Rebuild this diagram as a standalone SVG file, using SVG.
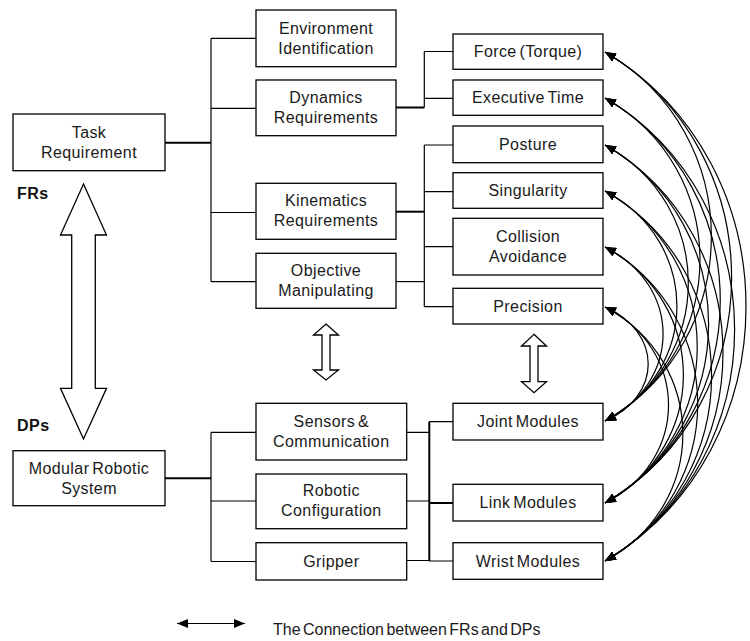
<svg xmlns="http://www.w3.org/2000/svg" width="750" height="641" viewBox="0 0 750 641">
  <defs>
    <marker id="ah" viewBox="0 0 11 9" refX="11" refY="4.5" markerWidth="11" markerHeight="9" markerUnits="userSpaceOnUse" orient="auto-start-reverse">
      <path d="M0,0 L11,4.5 L0,9 Z" fill="#000"/>
    </marker>
    <style>
      .box { fill: #fff; stroke: #000; stroke-width: 1.3; }
      .t { font-family: "Liberation Sans", Arial, sans-serif; font-size: 16px; letter-spacing: 0.4px; word-spacing: -2px; fill: #1a1a1a; text-anchor: middle; }
      .lbl { font-family: "Liberation Sans", Arial, sans-serif; font-size: 16px; font-weight: bold; letter-spacing: 0.5px; fill: #111; }
      .leg { font-family: "Liberation Sans", Arial, sans-serif; font-size: 16px; word-spacing: -2px; fill: #1a1a1a; }
      .ln { stroke: #000; stroke-width: 1.2; fill: none; }
      .thk { stroke-width: 2; }
      .big { fill: #fff; stroke: #000; stroke-width: 1.3; stroke-linejoin: miter; }
      .cv { stroke: #000; stroke-width: 1.2; fill: none; marker-start: url(#ah); marker-end: url(#ah); }
    </style>
  </defs>

  <!-- tree connectors -->
  <g id="tree-lines">
    <!-- FR side, level 1 -->
    <path class="ln thk" d="M165,142.7 H211"/>
    <path class="ln" d="M211,38.4 V281.6"/>
    <path class="ln" d="M211,38.4 H256 M211,108.3 H256 M211,212.5 H256 M211,281.6 H256"/>
    <!-- dynamics branch -->
    <path class="ln thk" d="M396,107.5 H424.3"/>
    <path class="ln" d="M424.3,51.5 V107.5 M424.3,51.5 H453 M424.3,98.3 H453"/>
    <!-- kinematics / objective branch -->
    <path class="ln thk" d="M396,211.7 H424.3"/>
    <path class="ln" d="M396,281.6 H424.3"/>
    <path class="ln" d="M424.3,145 V306.7 M424.3,145 H453 M424.3,191.7 H453 M424.3,246.7 H453 M424.3,306.7 H453"/>
    <!-- DP side, level 1 -->
    <path class="ln thk" d="M165,478.3 H211"/>
    <path class="ln" d="M211,432.4 V561.5"/>
    <path class="ln" d="M211,432.4 H256 M211,501 H256 M211,561.5 H256"/>
    <!-- DP side, level 2 -->
    <path class="ln" d="M406.7,432.4 H429.3 M406.7,501 H429.3 M406.7,560.5 H429.3"/>
    <path class="ln thk" d="M429.3,421.7 V561.2"/>
    <path class="ln" d="M429.3,421.7 H453 M429.3,561 H453"/>
    <path class="ln thk" d="M429.3,503 H453"/>
  </g>

  <!-- FR / DP correspondence arrows -->
  <g id="mapping-arrows">
    <polygon class="big" points="83.5,184 106.5,235 95.3,235 95.3,388.3 106.5,388.3 83.5,439 60.5,388.3 71.7,388.3 71.7,235 60.5,235"/>
    <polygon class="big" points="326,324 338.5,335 330,335 330,370 338.5,370 326,380 313.5,370 322,370 322,335 313.5,335"/>
    <polygon class="big" points="534,334.3 546.5,346 538,346 538,381.7 546.5,381.7 534,392.7 521.5,381.7 530,381.7 530,346 521.5,346"/>
  </g>

  <text class="lbl" x="17" y="199">FRs</text>
  <text class="lbl" x="17" y="431">DPs</text>

  <!-- nodes: functional requirements -->
  <g id="task-requirement">
    <rect class="box" x="13" y="114" width="152" height="56.7"/>
    <text class="t" x="89" y="137.8">Task</text>
    <text class="t" x="89" y="158">Requirement</text>
  </g>
  <g id="environment-identification">
    <rect class="box" x="256" y="10" width="140" height="56.7"/>
    <text class="t" x="326" y="34">Environment</text>
    <text class="t" x="326" y="54">Identification</text>
  </g>
  <g id="dynamics-requirements">
    <rect class="box" x="256" y="80" width="140" height="55.7"/>
    <text class="t" x="326" y="102.5">Dynamics</text>
    <text class="t" x="326" y="122.5">Requirements</text>
  </g>
  <g id="kinematics-requirements">
    <rect class="box" x="256" y="183.3" width="140" height="56"/>
    <text class="t" x="326" y="206">Kinematics</text>
    <text class="t" x="326" y="226">Requirements</text>
  </g>
  <g id="objective-manipulating">
    <rect class="box" x="256" y="253.3" width="140" height="55"/>
    <text class="t" x="326" y="276">Objective</text>
    <text class="t" x="326" y="296">Manipulating</text>
  </g>
  <g id="force-torque">
    <rect class="box" x="453" y="34" width="150" height="35.3"/>
    <text class="t" x="528" y="57.4">Force (Torque)</text>
  </g>
  <g id="executive-time">
    <rect class="box" x="453" y="80" width="150" height="35.3"/>
    <text class="t" x="528" y="103.4">Executive Time</text>
  </g>
  <g id="posture">
    <rect class="box" x="453" y="126" width="150" height="36.7"/>
    <text class="t" x="528" y="150">Posture</text>
  </g>
  <g id="singularity">
    <rect class="box" x="453" y="172.7" width="150" height="35.6"/>
    <text class="t" x="528" y="196.3">Singularity</text>
  </g>
  <g id="collision-avoidance">
    <rect class="box" x="453" y="218.3" width="150" height="56.7"/>
    <text class="t" x="528" y="241.7">Collision</text>
    <text class="t" x="528" y="261.7">Avoidance</text>
  </g>
  <g id="precision">
    <rect class="box" x="453" y="288.3" width="150" height="35.7"/>
    <text class="t" x="528" y="311.7">Precision</text>
  </g>

  <!-- nodes: design parameters -->
  <g id="modular-robotic-system">
    <rect class="box" x="13" y="450.7" width="152" height="55"/>
    <text class="t" x="89" y="473.5">Modular Robotic</text>
    <text class="t" x="89" y="493.5">System</text>
  </g>
  <g id="sensors-communication">
    <rect class="box" x="256" y="403.3" width="150.7" height="56.7"/>
    <text class="t" x="331.3" y="426.5">Sensors &amp;</text>
    <text class="t" x="331.3" y="446.5">Communication</text>
  </g>
  <g id="robotic-configuration">
    <rect class="box" x="256" y="474" width="150.7" height="54.7"/>
    <text class="t" x="331.3" y="496">Robotic</text>
    <text class="t" x="331.3" y="516">Configuration</text>
  </g>
  <g id="gripper">
    <rect class="box" x="256" y="542.7" width="150.7" height="37.3"/>
    <text class="t" x="331.3" y="567">Gripper</text>
  </g>
  <g id="joint-modules">
    <rect class="box" x="453" y="403.3" width="150" height="36.7"/>
    <text class="t" x="528" y="427.3">Joint Modules</text>
  </g>
  <g id="link-modules">
    <rect class="box" x="453" y="484.3" width="150" height="36.7"/>
    <text class="t" x="528" y="508.3">Link Modules</text>
  </g>
  <g id="wrist-modules">
    <rect class="box" x="453" y="542.7" width="150" height="36.6"/>
    <text class="t" x="528" y="566.7">Wrist Modules</text>
  </g>

  <!-- FR to DP connections -->
  <g id="connections">
    <path class="cv" d="M605,52 C746.8,133.2 746.8,339.8 605,421"/>
    <path class="cv" d="M605,52 C773.8,151.2 773.8,403.8 605,503"/>
    <path class="cv" d="M605,52 C793,164 793,449 605,561"/>
    <path class="cv" d="M605,98 C731.6,169.1 731.6,349.9 605,421"/>
    <path class="cv" d="M605,98 C758.7,187.1 758.7,413.9 605,503"/>
    <path class="cv" d="M605,98 C777.8,199.9 777.8,459.1 605,561"/>
    <path class="cv" d="M605,145 C716.1,205.7 716.1,360.3 605,421"/>
    <path class="cv" d="M605,145 C743.1,223.8 743.1,424.2 605,503"/>
    <path class="cv" d="M605,145 C762.3,236.5 762.3,469.5 605,561"/>
    <path class="cv" d="M605,191 C700.9,241.6 700.9,370.4 605,421"/>
    <path class="cv" d="M605,191 C728,259.6 728,434.4 605,503"/>
    <path class="cv" d="M605,191 C747.1,272.4 747.1,479.6 605,561"/>
    <path class="cv" d="M605,247 C682.4,285.3 682.4,382.7 605,421"/>
    <path class="cv" d="M605,247 C709.5,303.3 709.5,446.7 605,503"/>
    <path class="cv" d="M605,247 C728.6,316.1 728.6,491.9 605,561"/>
    <path class="cv" d="M605,307 C662.6,332.1 662.6,395.9 605,421"/>
    <path class="cv" d="M605,307 C689.7,350.1 689.7,459.9 605,503"/>
    <path class="cv" d="M605,307 C708.8,362.9 708.8,505.1 605,561"/>
  </g>

  <!-- legend -->
  <g id="legend">
    <path class="cv" d="M177,623.5 H245"/>
    <text class="leg" x="273" y="635">The Connection between FRs and DPs</text>
  </g>
</svg>
